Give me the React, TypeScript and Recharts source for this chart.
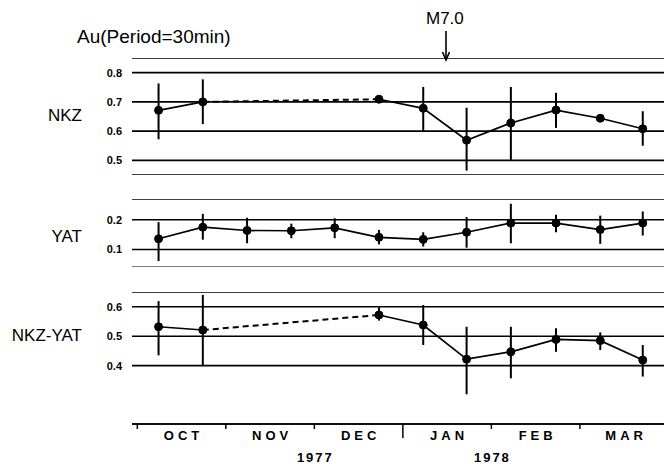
import { LineChart, Line, XAxis, YAxis, CartesianGrid, ErrorBar } from "recharts";

// time of each measurement, in months since 1 Oct 1977
const times = [0.24, 0.74, 1.24, 1.74, 2.23, 2.73, 3.23, 3.72, 4.22, 4.73, 5.23, 5.71];

// NKZ (null = no data, bridged by the dashed line)
const nkz = [0.671, 0.7, null, null, null, 0.709, 0.678, 0.569, 0.628, 0.672, 0.644, 0.608];
const nkzLow = [0.572, 0.624, null, null, null, 0.704, 0.6, 0.465, 0.499, 0.611, 0.634, 0.55];
const nkzHigh = [0.763, 0.777, null, null, null, 0.714, 0.751, 0.68, 0.751, 0.731, 0.654, 0.668];

const yat = [0.136, 0.175, 0.164, 0.163, 0.173, 0.141, 0.134, 0.158, 0.189, 0.189, 0.167, 0.189];
const yatLow = [0.061, 0.133, 0.121, 0.138, 0.138, 0.117, 0.11, 0.106, 0.121, 0.158, 0.119, 0.147];
const yatHigh = [0.192, 0.22, 0.207, 0.187, 0.205, 0.166, 0.158, 0.209, 0.254, 0.217, 0.214, 0.228];

const diff = [0.532, 0.521, null, null, null, 0.572, 0.538, 0.422, 0.447, 0.489, 0.485, 0.419];
const diffLow = [0.435, 0.4, null, null, null, 0.553, 0.47, 0.303, 0.357, 0.447, 0.453, 0.363];
const diffHigh = [0.619, 0.64, null, null, null, 0.598, 0.606, 0.532, 0.532, 0.527, 0.513, 0.47];

const months = ["OCT", "NOV", "DEC", "JAN", "FEB", "MAR"];
const monthTicks = [0, 1, 2, 3, 4, 5];
const yearLabels: Record<number, string> = { 2: "1977", 4: "1978" };

const nkzTicks = [0.5, 0.6, 0.7, 0.8];
const yatTicks = [0.1, 0.2];
const diffTicks = [0.4, 0.5, 0.6];

const W = 664;
const Y_AXIS_W = 132;
const X_DOMAIN: [number, number] = [-0.06, 5.95];
const PX_PER_MONTH = (W - Y_AXIS_W) / (X_DOMAIN[1] - X_DOMAIN[0]);
const FONT = "'Liberation Sans', Arial, sans-serif";

// dashed bridge only touches the two points around the gap
const bridge = (vals: (number | null)[]) => {
  const first = vals.indexOf(null) - 1;
  const last = vals.lastIndexOf(null) + 1;
  return vals.map((v, i) => (i === first || i === last ? v : null));
};

const build = (vals: (number | null)[], lo: (number | null)[], hi: (number | null)[]) => {
  const dash = bridge(vals);
  return times.map((t, i) => ({
    t,
    v: vals[i],
    dash: dash[i],
    err: vals[i] == null ? null : [(vals[i] as number) - (lo[i] as number), (hi[i] as number) - (vals[i] as number)],
  }));
};

const nkzData = build(nkz, nkzLow, nkzHigh);
const yatData = build(yat, yatLow, yatHigh);
const diffData = build(diff, diffLow, diffHigh);

const YTick = (props: any) => {
  const { x, y, payload } = props;
  return (
    <text x={x} y={y} dy={4} textAnchor="end" fontSize={11} fontWeight="bold" fontFamily={FONT} fill="#000">
      {payload.value.toFixed(1)}
    </text>
  );
};

const MonthTick = (props: any) => {
  const { x, y, payload } = props;
  const i = payload.value as number;
  const half = PX_PER_MONTH / 2;
  return (
    <g>
      <line x1={x} x2={x} y1={y} y2={y + (i === 3 ? 14 : 5)} stroke="#000" strokeWidth={1.5} />
      <text x={x + half + 2} y={y + 16} textAnchor="middle" fontSize={13} fontWeight="bold" letterSpacing={4} fontFamily={FONT} fill="#000">
        {months[i]}
      </text>
      {yearLabels[i] && (
        <text x={x + 1} y={y + 38} textAnchor="middle" fontSize={13} fontWeight="bold" letterSpacing={2} fontFamily={FONT} fill="#000">
          {yearLabels[i]}
        </text>
      )}
    </g>
  );
};

type PanelProps = {
  data: any[];
  top: number;
  plotH: number;
  domain: [number, number];
  ticks: number[];
  dashed: boolean;
  showX?: boolean;
};

const Panel = ({ data, top, plotH, domain, ticks, dashed, showX }: PanelProps) => {
  const xH = showX ? 48 : 0;
  return (
    <div style={{ position: "absolute", left: 0, top }}>
      <LineChart width={W} height={plotH + xH} data={data} margin={{ top: 0, right: 0, bottom: 0, left: 0 }}>
        <CartesianGrid vertical={false} stroke="#000" strokeWidth={1.6} />
        <XAxis
          dataKey="t"
          type="number"
          domain={X_DOMAIN}
          allowDataOverflow
          hide={!showX}
          height={xH}
          ticks={monthTicks}
          interval={0}
          tickLine={false}
          tickSize={0}
          tickMargin={0}
          tick={<MonthTick />}
          axisLine={{ stroke: "#000", strokeWidth: 1.6 }}
        />
        <YAxis
          type="number"
          domain={domain}
          allowDataOverflow
          ticks={ticks}
          width={Y_AXIS_W}
          axisLine={false}
          tickLine={false}
          tickMargin={4}
          tick={<YTick />}
        />
        {dashed && (
          <Line
            dataKey="dash"
            connectNulls
            stroke="#000"
            strokeWidth={2}
            strokeDasharray="6 4"
            dot={false}
            isAnimationActive={false}
          />
        )}
        <Line
          dataKey="v"
          stroke="#000"
          strokeWidth={1.7}
          dot={{ r: 4, fill: "#000", stroke: "#000", strokeWidth: 1 }}
          isAnimationActive={false}
        >
          <ErrorBar dataKey="err" direction="y" width={0} stroke="#000" strokeWidth={2} />
        </Line>
      </LineChart>
    </div>
  );
};

const label = (text: string, cy: number): any => (
  <div
    style={{
      position: "absolute",
      right: W - 82,
      top: cy - 10,
      fontSize: 17,
      lineHeight: "20px",
      fontFamily: FONT,
      whiteSpace: "nowrap",
    }}
  >
    {text}
  </div>
);

export default function App() {
  return (
    <div style={{ position: "absolute", left: 0, top: 0, width: W, height: 464, background: "#fff", overflow: "hidden" }}>
      <div style={{ position: "absolute", left: 77, top: 26, fontSize: 19, lineHeight: "22px", fontFamily: FONT }}>
        Au(Period=30min)
      </div>
      <div style={{ position: "absolute", left: 426, top: 9, fontSize: 17, lineHeight: "20px", fontFamily: FONT }}>M7.0</div>
      <svg style={{ position: "absolute", left: 438, top: 30 }} width={16} height={34}>
        <line x1={8} x2={8} y1={1} y2={29} stroke="#000" strokeWidth={1.6} />
        <path d="M4.5 22 L8 30 L11.5 22" fill="none" stroke="#000" strokeWidth={1.6} />
      </svg>

      {label("NKZ", 116)}
      {label("YAT", 237)}
      {label("NKZ-YAT", 336)}

      <Panel data={nkzData} top={58} plotH={117} domain={[0.45, 0.85]} ticks={nkzTicks} dashed />
      <Panel data={yatData} top={198.5} plotH={68.3} domain={[0.04, 0.27]} ticks={yatTicks} dashed={false} />
      <Panel data={diffData} top={292} plotH={132} domain={[0.202, 0.65]} ticks={diffTicks} dashed showX />
    </div>
  );
}
